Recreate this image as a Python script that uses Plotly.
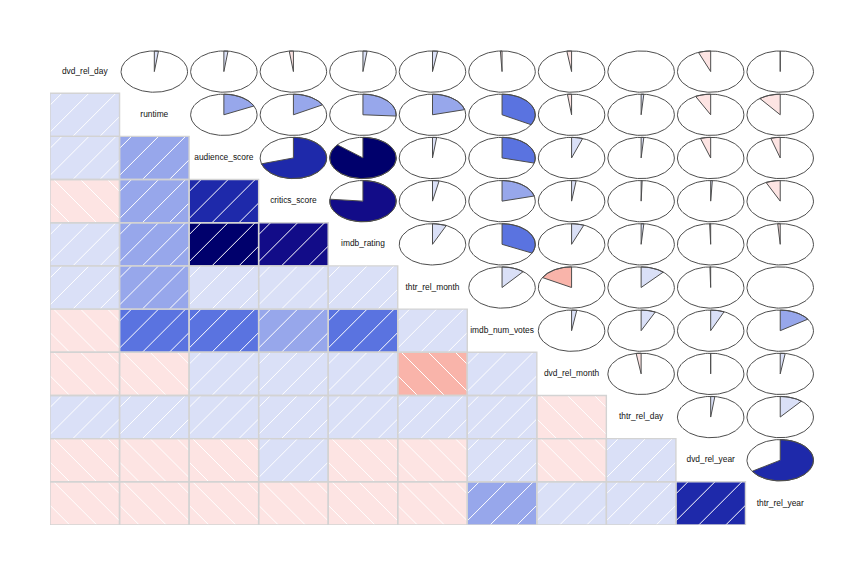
import numpy as np
import plotly.graph_objects as go

# ---------------- data ----------------
variables = ["dvd_rel_day", "runtime", "audience_score", "critics_score", "imdb_rating",
             "thtr_rel_month", "imdb_num_votes", "dvd_rel_month", "thtr_rel_day",
             "dvd_rel_year", "thtr_rel_year"]

# upper-triangle correlations, row by row (each row: correlation with the later variables)
r_dvd_rel_day = [0.02, 0.02, -0.02, 0.02, 0.025, -0.008, -0.023, 0.0004, -0.06, -0.003]
r_runtime = [0.18, 0.17, 0.26, 0.21, 0.33, -0.02, 0.013, -0.075, -0.105]
r_audience_score = [0.704, 0.86, 0.02, 0.29, 0.054, 0.013, -0.05, -0.046]
r_critics_score = [0.765, 0.032, 0.21, 0.022, 0.005, 0.008, -0.07]
r_imdb_rating = [0.068, 0.32, 0.06, 0.013, -0.005, -0.012]
r_thtr_rel_month = [0.11, -0.17, 0.116, -0.004, -0.0004]
r_imdb_num_votes = [0.025, 0.07, 0.066, 0.156]
r_dvd_rel_month = [-0.024, -0.003, 0.024]
r_thtr_rel_day = [0.02, 0.11]
r_dvd_rel_year = [0.66]

upper_rows = [r_dvd_rel_day, r_runtime, r_audience_score, r_critics_score, r_imdb_rating,
              r_thtr_rel_month, r_imdb_num_votes, r_dvd_rel_month, r_thtr_rel_day,
              r_dvd_rel_year]

# ---------------- styles ----------------
palette = ["#FF0000", "#FD2723", "#FC4E46", "#FA7669", "#FA9A8E", "#F9B4AA", "#FDE4E3",
           "#DAE0F7", "#97A7EB", "#5A73E0", "#3C5FD8", "#1E29AA", "#120C88", "#00006C"]
W, H = 864, 576
ML, MR, MT, MB = 50, 49, 50, 51

n = len(variables)
R = np.eye(n)
for i, row in enumerate(upper_rows):
    for k, v in enumerate(row):
        j = i + 1 + k
        R[i, j] = v
        R[j, i] = v


def bin_index(r):
    idx = int(np.ceil((r + 1) * 7 - 1e-12)) - 1
    return min(max(idx, 0), 13)


cw = (W - ML - MR) / n   # pixels per x unit
ch = (H - MT - MB) / n   # pixels per y unit

fig = go.Figure()

# ---------- lower panels: shade ----------
fills = {}
hx, hy = [], []
bx, by = [], []
spacing = 27.0
for i in range(n):
    for j in range(i):
        r = R[i, j]
        b = bin_index(r)
        fx, fy = fills.setdefault(b, ([], []))
        fx += [j, j + 1, j + 1, j, j, None]
        fy += [i, i, i + 1, i + 1, i, None]
        bx += [j, j + 1, j + 1, j, j, None]
        by += [i, i, i + 1, i + 1, i, None]
        # hatch lines (45 deg for positive, 135 deg for negative), in pixel space of cell
        w, h = cw, ch
        if r > 0:
            c = 12.0
            while c < w + h:
                x0 = max(0.0, c - h); x1 = min(w, c)
                if x1 > x0:
                    hx += [j + x0 / w, j + x1 / w, None]
                    hy += [i + (c - x0) / h, i + (c - x1) / h, None]
                c += spacing
        else:
            c = -w + 12.0
            while c < h:
                x0 = max(0.0, -c); x1 = min(w, h - c)
                if x1 > x0:
                    hx += [j + x0 / w, j + x1 / w, None]
                    hy += [i + (x0 + c) / h, i + (x1 + c) / h, None]
                c += spacing

for b, (fx, fy) in sorted(fills.items()):
    fig.add_trace(go.Scatter(x=fx, y=fy, mode="lines", fill="toself", fillcolor=palette[b],
                             line=dict(width=0, color=palette[b]), hoverinfo="skip",
                             showlegend=False))
fig.add_trace(go.Scatter(x=hx, y=hy, mode="lines", line=dict(color="white", width=1),
                         hoverinfo="skip", showlegend=False))
fig.add_trace(go.Scatter(x=bx, y=by, mode="lines", line=dict(color="#D3D3D3", width=1.4),
                         hoverinfo="skip", showlegend=False))

# ---------- upper panels: pies ----------
rad = 0.478
wedges = {}
ex, ey = [], []
circ = np.linspace(0, 2 * np.pi, 121)
for i in range(n):
    for j in range(i + 1, n):
        r = R[i, j]
        cx, cy = j + 0.5, i + 0.5
        ex += list(cx + rad * np.cos(circ)) + [None]
        ey += list(cy - rad * np.sin(circ)) + [None]
        if abs(r) < 0.001:
            continue
        ang = np.linspace(np.pi / 2, np.pi / 2 - 2 * np.pi * r, 90)
        wx, wy = wedges.setdefault(bin_index(r), ([], []))
        wx += [cx] + list(cx + rad * np.cos(ang)) + [cx, None]
        wy += [cy] + list(cy - rad * np.sin(ang)) + [cy, None]

for b, (wx, wy) in sorted(wedges.items()):
    fig.add_trace(go.Scatter(x=wx, y=wy, mode="lines", fill="toself", fillcolor=palette[b],
                             line=dict(width=1, color="#4D4D4D"), hoverinfo="skip",
                             showlegend=False))
fig.add_trace(go.Scatter(x=ex, y=ey, mode="lines", line=dict(color="#4D4D4D", width=1),
                         hoverinfo="skip", showlegend=False))

# ---------- diagonal labels ----------
pos = [k + 0.5 for k in range(n)]
fig.add_trace(go.Scatter(x=pos, y=pos, mode="text", text=variables,
                         textfont=dict(family="Liberation Sans, Arial, sans-serif", size=8.4,
                                       color="#111111"),
                         hoverinfo="skip", showlegend=False))

fig.update_layout(
    width=W, height=H,
    margin=dict(l=ML, r=MR, t=MT, b=MB, pad=0),
    paper_bgcolor="white", plot_bgcolor="white",
    xaxis=dict(range=[0, n], visible=False, fixedrange=True),
    yaxis=dict(range=[n, 0], visible=False, fixedrange=True),
    showlegend=False,
)

fig.write_html("out.html", config={"displayModeBar": False})
